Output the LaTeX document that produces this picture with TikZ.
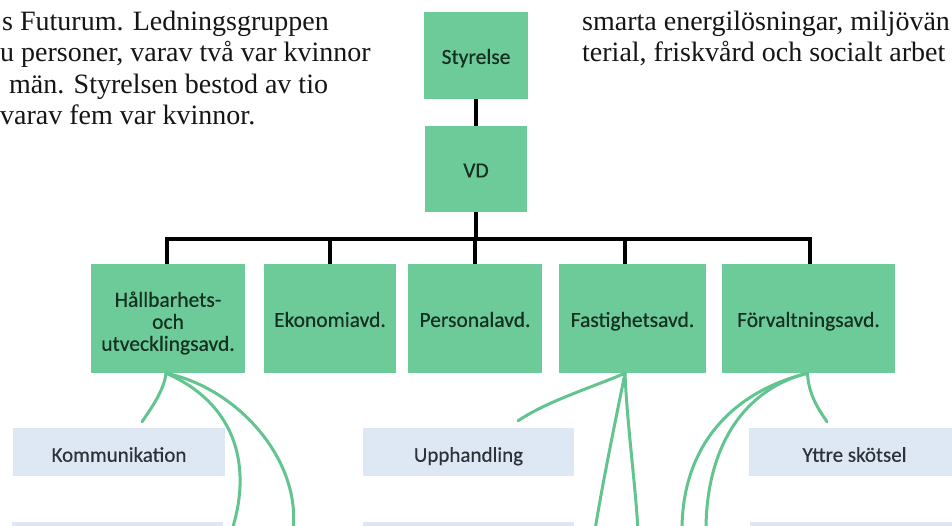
\documentclass[tikz,border=0pt]{standalone}
\usepackage{fontspec}
\setmainfont{Liberation Serif}
\newfontfamily\labfont[FakeBold=0.4]{Carlito}
\definecolor{boxgreen}{HTML}{6DCB9A}
\definecolor{labgreen}{HTML}{14301F}
\definecolor{boxblue}{HTML}{DDE8F4}
\definecolor{labgray}{HTML}{2E3238}
\definecolor{twiggreen}{HTML}{62C48F}
\definecolor{bodyink}{HTML}{151515}
\begin{document}
\begin{tikzpicture}[x=1pt,y=-1pt,
  gbox/.style={draw=none, fill=boxgreen, inner sep=0pt, align=center,
    font=\labfont\fontsize{21.5}{21.5}\selectfont, text=labgreen,
    text height=19pt, text depth=2.2pt},
  glab/.style={inner sep=0pt, align=center, text=labgreen,
    font=\labfont\fontsize{21.5}{22}\selectfont},
  bbox/.style={draw=none, fill=boxblue, inner sep=0pt, minimum width=211pt, minimum height=48pt,
    font=\labfont\fontsize{21}{21}\selectfont, text=labgray,
    text height=22pt, text depth=2.5pt},
  bar/.style={line width=4pt, black},
  twig/.style={line width=3pt, twiggreen, line cap=round},
  body/.style={anchor=base west, inner sep=0pt, text=bodyink,
    font=\fontsize{28}{31.5}\selectfont}
]
\useasboundingbox (0,0) rectangle (952,525);
\clip (0,0) rectangle (952,525);
\fill[white] (0,0) rectangle (952,525);

% body text
\node[body] (l1) at (2,30) {s Futurum. Ledningsgruppen};
\node[body] (l2) at (0,61.5) {u personer, varav två var kvinnor};
\node[body] (l3) at (9,93) {män. Styrelsen bestod av tio};
\node[body] (l4) at (0,124.5) {varav fem var kvinnor.};
\node[body] (r1) at (582,30) {smarta energilösningar, miljövän};
\node[body] (r2) at (582,61.5) {terial, friskvård och socialt arbet};

% green boxes
\node[gbox, minimum width=104pt, minimum height=87pt] (sty) at (476,55.5) {Styrelse};
\node[gbox, minimum width=102pt, minimum height=86pt] (vd) at (476,169) {VD};
\node[gbox, minimum width=154pt, minimum height=109pt] (hall) at (168,318.5) {};
\node[glab] (halltxt) at (168,323) {Hållbarhets-\\och\\utvecklingsavd.};
\node[gbox, minimum width=132pt, minimum height=109pt] (eko) at (330,318.5) {Ekonomiavd.};
\node[gbox, minimum width=134pt, minimum height=109pt] (pers) at (475,318.5) {Personalavd.};
\node[gbox, minimum width=147pt, minimum height=109pt] (fast) at (632.5,318.5) {Fastighetsavd.};
\node[gbox, minimum width=173pt, minimum height=109pt] (forv) at (808.5,318.5) {Förvaltningsavd.};

% blue boxes
\node[bbox, minimum width=212pt] (komm) at (119,452) {Kommunikation};
\node[bbox] (upph) at (468.5,452) {Upphandling};
\node[bbox] (yttre) at (854.5,452) {Yttre skötsel};
\node[bbox] (ra) at (117.5,546) {};
\node[bbox] (rb) at (468.5,546) {};
\node[bbox] (rc) at (855.5,546) {};

% black connectors
\draw[bar] (sty.south) -- (vd.north);
\draw[bar] (vd.south) -- ++(0,27) coordinate (bj);
\draw[bar] ([xshift=-1pt]hall.north) |- (bj) -| ([xshift=1.5pt]forv.north);
\draw[bar] (eko.north) -- (eko.north |- bj);
\draw[bar] (pers.north) -- (pers.north |- bj);
\coordinate (fdrop) at ([xshift=-7.5pt]fast.north);
\draw[bar] (fdrop) -- (fdrop |- bj);

% green twigs
\coordinate (hs) at ([xshift=-2pt]hall.south);
\coordinate (h2) at (232,530);
\coordinate (h3) at (293,530);
\draw[twig] (hs) .. controls +(-2,18) and +(8,-12) .. ([xshift=23pt,yshift=6pt]komm.north);
\draw[twig] (hs) .. controls +(65,28) and +(22,-70) .. (h2);
\draw[twig] (hs) .. controls +(72,15) and +(8,-70) .. (h3);

\coordinate (fs) at ([xshift=-7.5pt]fast.south);
\coordinate (f2) at (595,530);
\coordinate (f3) at (638,530);
\draw[twig] (fs) .. controls +(-35,15) and +(30,-20) .. ([xshift=49.5pt,yshift=7pt]upph.north);
\draw[twig] (fs) .. controls +(-8,40) and +(8,-50) .. (f2);
\draw[twig] (fs) .. controls +(2,50) and +(-3,-50) .. (f3);

\coordinate (fv) at ([xshift=-1pt]forv.south);
\coordinate (v2) at (682,530);
\coordinate (v3) at (706,530);
\draw[twig] (fv) .. controls +(1,22) and +(-8,-12) .. ([xshift=-27.5pt,yshift=6pt]yttre.north);
\draw[twig] (fv) .. controls +(-80,20) and +(0,-80) .. (v2);
\draw[twig] (fv) .. controls +(-70,18) and +(0,-75) .. (v3);
\end{tikzpicture}
\end{document}
